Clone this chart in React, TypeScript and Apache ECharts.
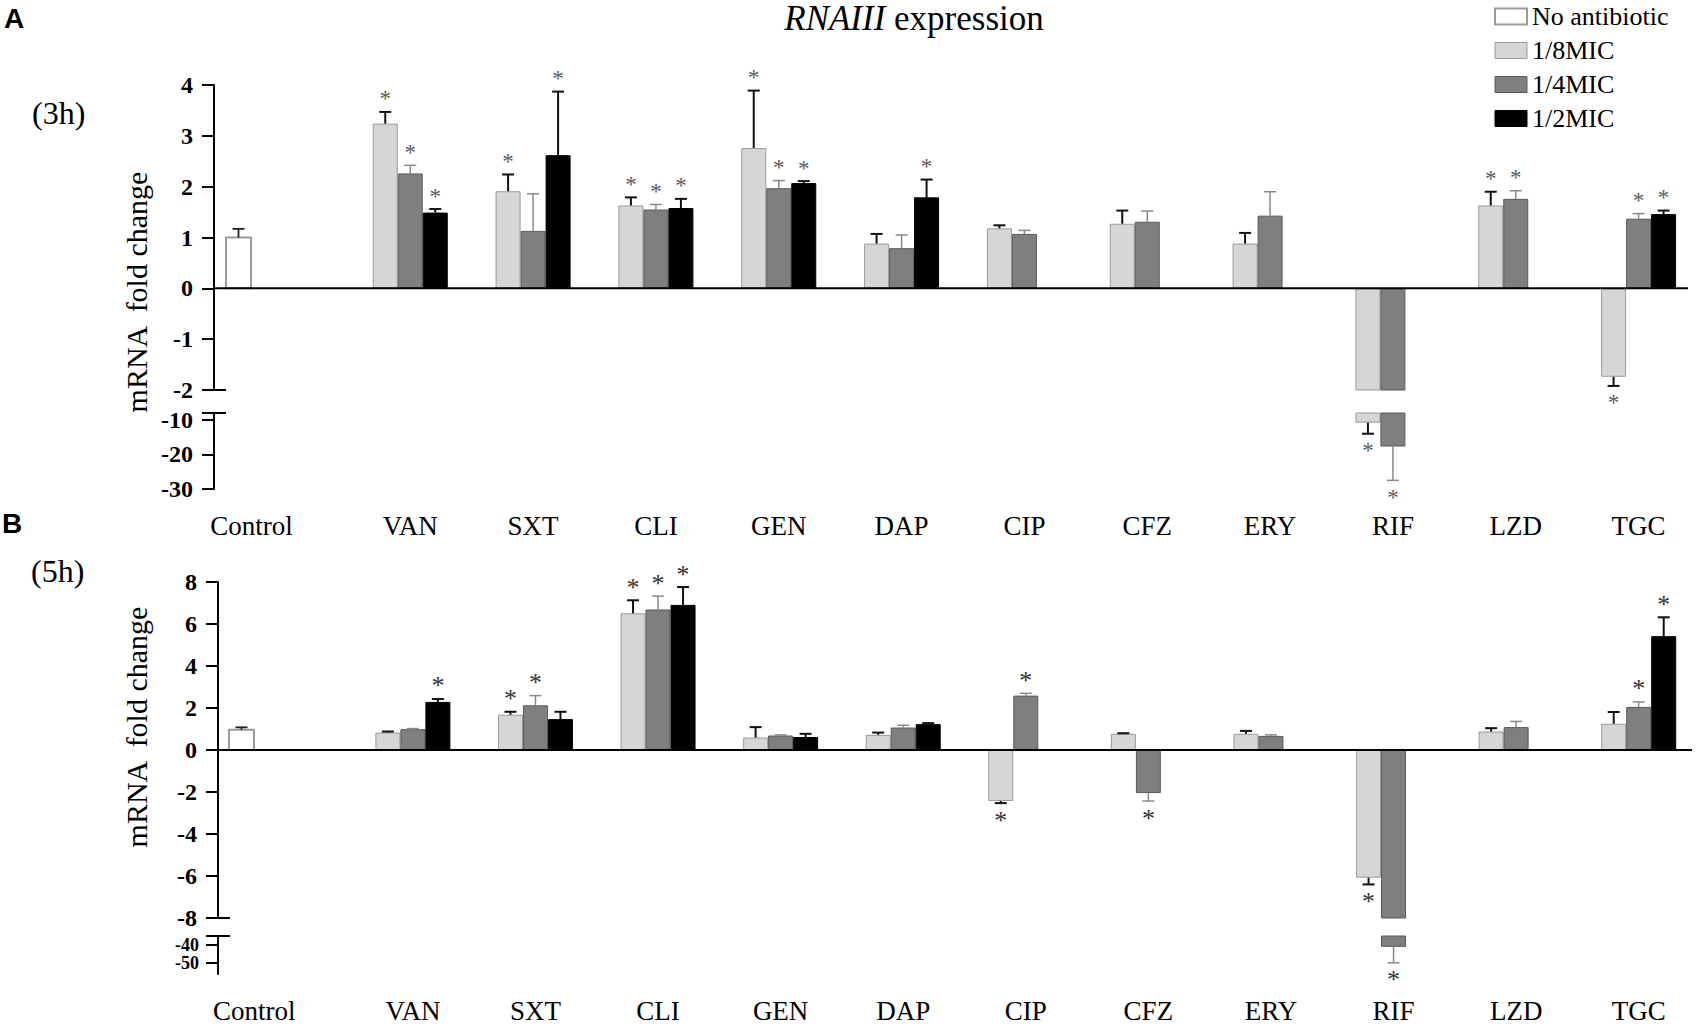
import React, { useEffect, useRef } from 'react';
import * as echarts from 'echarts';

const SERIF = '"Liberation Serif", "Times New Roman", serif';
const SANS = '"Liberation Sans", Arial, sans-serif';

const categories = ['Control', 'VAN', 'SXT', 'CLI', 'GEN', 'DAP', 'CIP', 'CFZ', 'ERY', 'RIF', 'LZD', 'TGC'];
const seriesNames = ['No antibiotic', '1/8MIC', '1/4MIC', '1/2MIC'];
const N = null;

// ---- 3h (panel A) ----
const noAb3h = [1.0, N, N, N, N, N, N, N, N, N, N, N];
const noAb3hErr = [0.17, N, N, N, N, N, N, N, N, N, N, N];
const noAb3hSig = [0, 0, 0, 0, 0, 0, 0, 0, 0, 0, 0, 0];
const mic8_3h = [N, 3.24, 1.91, 1.63, 2.76, 0.88, 1.18, 1.27, 0.88, -10.8, 1.63, -1.74];
const mic8_3hErr = [N, 0.23, 0.33, 0.16, 1.13, 0.19, 0.06, 0.26, 0.21, 3.2, 0.27, 0.18];
const mic8_3hSig = [0, 1, 1, 1, 1, 0, 0, 0, 0, 1, 1, 1];
const mic4_3h = [N, 2.26, 1.13, 1.55, 1.97, 0.79, 1.07, 1.31, 1.43, -17.7, 1.76, 1.37];
const mic4_3hErr = [N, 0.16, 0.73, 0.1, 0.15, 0.26, 0.07, 0.21, 0.47, 9.8, 0.16, 0.1];
const mic4_3hSig = [0, 1, 0, 1, 1, 0, 0, 0, 0, 1, 1, 1];
const mic2_3h = [N, 1.49, 2.62, 1.58, 2.07, 1.79, N, N, N, N, N, 1.46];
const mic2_3hErr = [N, 0.07, 1.25, 0.18, 0.04, 0.35, N, N, N, N, N, 0.07];
const mic2_3hSig = [0, 1, 1, 1, 1, 1, 0, 0, 0, 0, 0, 1];
const lowerTicks3h = [-30, -20, -10];

// ---- 5h (panel B) ----
const noAb5h = [0.96, N, N, N, N, N, N, N, N, N, N, N];
const noAb5hErr = [0.12, N, N, N, N, N, N, N, N, N, N, N];
const noAb5hSig = [0, 0, 0, 0, 0, 0, 0, 0, 0, 0, 0, 0];
const mic8_5h = [N, 0.83, 1.68, 6.51, 0.59, 0.72, -2.43, 0.77, 0.77, -6.08, 0.88, 1.25];
const mic8_5hErr = [N, 0.05, 0.14, 0.62, 0.5, 0.11, 0.1, 0.03, 0.14, 0.32, 0.16, 0.56];
const mic8_5hSig = [0, 0, 1, 1, 0, 0, 1, 0, 0, 1, 0, 0];
const mic4_5h = [N, 0.99, 2.13, 6.69, 0.69, 1.07, 2.59, -2.05, 0.67, -41.0, 1.09, 2.05];
const mic4_5hErr = [N, 0.03, 0.46, 0.64, 0.03, 0.11, 0.11, 0.38, 0.05, 8.8, 0.27, 0.24];
const mic4_5hSig = [0, 0, 1, 1, 0, 0, 1, 1, 0, 1, 0, 1];
const mic2_5h = [N, 2.29, 1.47, 6.91, 0.62, 1.23, N, N, N, N, N, 5.42];
const mic2_5hErr = [N, 0.14, 0.35, 0.85, 0.15, 0.05, N, N, N, N, N, 0.9];
const mic2_5hSig = [0, 1, 0, 1, 0, 0, 0, 0, 0, 0, 0, 1];
const lowerTicks5h = [-50, -40];

const fills = ['#ffffff', '#d6d6d6', '#7f7f7f', '#000000'];
const borders = ['#9a9a9a', '#9a9a9a', '#5a5a5a', '#000000'];
const errColors = ['#222222', '#111111', '#8a8a8a', '#111111'];
const errWidths = [1.8, 2, 1.5, 2];
const BAR_W = 25;

const panels = [
  {
    left: 226, offset: 12, lineEnd: 1688,
    upper: { top: 85, height: 305, min: -2, max: 4, interval: 1 },
    lower: { top: 413, height: 76, min: -30, max: -8, ticks: lowerTicks3h, labelSize: 24, ownLabels: false },
    vals: [noAb3h, mic8_3h, mic4_3h, mic2_3h],
    errs: [noAb3hErr, mic8_3hErr, mic4_3hErr, mic2_3hErr],
    sigs: [noAb3hSig, mic8_3hSig, mic4_3hSig, mic2_3hSig],
    star: { size: 23, color: '#5a5a5a' },
  },
  {
    left: 229, offset: 11, lineEnd: 1692,
    upper: { top: 582, height: 336, min: -8, max: 8, interval: 2 },
    lower: { top: 936, height: 38, min: -56, max: -35, ticks: lowerTicks5h, labelSize: 18, ownLabels: true },
    vals: [noAb5h, mic8_5h, mic4_5h, mic2_5h],
    errs: [noAb5hErr, mic8_5hErr, mic4_5hErr, mic2_5hErr],
    sigs: [noAb5hSig, mic8_5hSig, mic4_5hSig, mic2_5hSig],
    star: { size: 26, color: '#333333' },
  },
];

function buildOption() {
  const grid: any[] = [];
  const xAxis: any[] = [];
  const yAxis: any[] = [];
  const series: any[] = [];

  panels.forEach((p, pi) => {
    [p.upper, p.lower].forEach((seg: any, si) => {
      const g = pi * 2 + si;
      const isLower = si === 1;
      const breakVal = p.upper.min;
      grid.push({ left: p.left, width: 1478, top: seg.top, height: seg.height });
      xAxis.push({
        type: 'category', gridIndex: g, data: categories, boundaryGap: true,
        axisLine: { show: false }, axisTick: { show: false }, splitLine: { show: false },
        axisLabel: {
          show: isLower, margin: 23, interval: 0,
          fontFamily: SERIF, fontSize: 27, color: '#000',
          formatter: (v: string) => (v === 'Control' ? `{c|${v}}` : v),
          rich: { c: { fontFamily: SERIF, fontSize: 27, color: '#000', padding: [0, 72, 0, 0] } },
        },
      });
      const yA: any = {
        type: 'value', gridIndex: g, min: seg.min, max: seg.max, offset: p.offset,
        axisLine: { show: true, onZero: false, lineStyle: { color: '#000', width: 2 } },
        axisTick: { show: true, length: 12, lineStyle: { color: '#000', width: 2 } },
        axisLabel: {
          show: !seg.ownLabels,
          fontFamily: SERIF, fontWeight: 'bold', fontSize: seg.labelSize || 24, color: '#000',
          margin: 21, hideOverlap: false, showMinLabel: true, showMaxLabel: true,
        },
        splitLine: { show: false },
      };
      if (seg.interval) yA.interval = seg.interval;
      if (seg.ticks) {
        yA.axisTick.customValues = seg.ticks;
        yA.axisLabel.customValues = seg.ticks;
      }
      yAxis.push(yA);

      const inSeg = (v: number | null) =>
        v == null ? null : isLower ? (v < breakVal ? v : null) : v;
      const inSegErr = (v: number | null) =>
        v == null ? null : isLower ? (v < breakVal ? v : null) : v >= breakVal ? v : null;

      if (!isLower) {
        series.push({
          type: 'custom', name: seriesNames[0], xAxisIndex: g, yAxisIndex: g, silent: true, z: 3,
          itemStyle: { color: fills[0], borderColor: borders[0], borderWidth: 2 },
          encode: { x: 0, y: 1 },
          data: p.vals[0].map((v, i) => (v == null ? null : [i, v])).filter((d) => d),
          renderItem: (params: any, api: any) => {
            const ci = api.value(0);
            const v = api.value(1);
            const c = api.coord([ci, v]);
            const z = api.coord([ci, 0]);
            const band = api.size([1, 0])[0];
            const x0 = c[0] - band / 2;
            return {
              type: 'rect',
              shape: { x: x0, y: Math.min(c[1], z[1]), width: BAR_W, height: Math.abs(z[1] - c[1]) },
              style: { fill: fills[0], stroke: borders[0], lineWidth: 2 },
            };
          },
        });
      }

      for (let s = 1; s <= 3; s++) {
        series.push({
          type: 'bar', name: seriesNames[s], xAxisIndex: g, yAxisIndex: g,
          barWidth: BAR_W, barGap: '0%', clip: true, silent: true, z: 2,
          itemStyle: { color: fills[s], borderColor: borders[s], borderWidth: 1 },
          emphasis: { disabled: true },
          data: p.vals[s].map((v) => inSeg(v)),
        });
      }

      const errData: any[] = [];
      for (let s = 0; s <= 3; s++) {
        p.vals[s].forEach((v, i) => {
          const vv = inSegErr(v);
          if (vv == null) return;
          if (s === 0 && isLower) return;
          errData.push([i, vv, p.errs[s][i] || 0, p.sigs[s][i] || 0, s]);
        });
      }
      series.push({
        type: 'custom', name: 'err' + g, xAxisIndex: g, yAxisIndex: g, silent: true, z: 5,
        encode: { x: 0, y: 1 },
        data: errData,
        renderItem: (params: any, api: any) => {
          const ci = api.value(0);
          const v = api.value(1);
          const e = api.value(2);
          const sig = api.value(3);
          const s = api.value(4);
          const band = api.size([1, 0])[0];
          const c = api.coord([ci, v]);
          const dir = v >= 0 ? 1 : -1;
          const ce = api.coord([ci, v + dir * e]);
          const x = s === 0 ? c[0] - band / 2 + BAR_W / 2 : c[0] + (s - 2) * BAR_W;
          const ls = { stroke: errColors[s], lineWidth: errWidths[s] };
          const children: any[] = [
            { type: 'line', shape: { x1: x, y1: c[1], x2: x, y2: ce[1] }, style: ls },
            { type: 'line', shape: { x1: x - 6, y1: ce[1], x2: x + 6, y2: ce[1] }, style: ls },
          ];
          if (sig) {
            children.push({
              type: 'text',
              x,
              y: dir > 0 ? ce[1] - 13 : ce[1] + 17,
              style: {
                text: '*', fontFamily: SERIF, fontSize: p.star.size, fill: p.star.color,
                align: 'center', verticalAlign: 'middle',
              },
            });
          }
          return { type: 'group', children };
        },
      });
    });
  });

  return {
    animation: false,
    backgroundColor: '#ffffff',
    grid, xAxis, yAxis, series,
    legend: {
      left: 1489, top: -2, orient: 'vertical', itemWidth: 32, itemHeight: 16, itemGap: 7,
      selectedMode: false,
      textStyle: { fontFamily: SERIF, fontSize: 26, color: '#000', lineHeight: 27 },
      data: seriesNames.map((n, i) => ({
        name: n, icon: 'rect',
        itemStyle: { color: fills[i], borderColor: borders[i], borderWidth: i === 0 ? 2 : 1 },
      })),
    },
  };
}

export default function App() {
  const ref = useRef<HTMLDivElement>(null);
  useEffect(() => {
    document.body.style.margin = '0';
    const chart = echarts.init(ref.current as HTMLDivElement, null, { renderer: 'svg' });
    chart.setOption(buildOption() as any);

    const graphics: any[] = [];
    const txt = (x: number, y: number, text: string, style: any, extra: any = {}) =>
      graphics.push({ type: 'text', x, y, ...extra, style: { text, fill: '#000', ...style } });

    txt(4, 18, 'A', { fontFamily: SANS, fontWeight: 'bold', fontSize: 28, verticalAlign: 'middle' });
    txt(2, 523, 'B', { fontFamily: SANS, fontWeight: 'bold', fontSize: 28, verticalAlign: 'middle' });
    txt(32, 113, '(3h)', { fontFamily: SERIF, fontSize: 32, verticalAlign: 'middle' });
    txt(31, 571, '(5h)', { fontFamily: SERIF, fontSize: 32, verticalAlign: 'middle' });
    txt(914, 18, '{i|RNAIII}{n| expression}', {
      align: 'center', verticalAlign: 'middle',
      rich: {
        i: { fontFamily: SERIF, fontSize: 35, fontStyle: 'italic', fill: '#000' },
        n: { fontFamily: SERIF, fontSize: 35, fill: '#000' },
      },
    });
    txt(136, 292, 'mRNA  fold change', { fontFamily: SERIF, fontSize: 30, align: 'center', verticalAlign: 'middle' }, { rotation: Math.PI / 2 });
    txt(136, 727, 'mRNA  fold change', { fontFamily: SERIF, fontSize: 30, align: 'center', verticalAlign: 'middle' }, { rotation: Math.PI / 2 });

    panels.forEach((p, pi) => {
      const axisX = p.left - p.offset;
      const zeroY = chart.convertToPixel({ yAxisIndex: pi * 2 } as any, 0) as number;
      const breakTop = chart.convertToPixel({ yAxisIndex: pi * 2 } as any, p.upper.min) as number;
      const breakBot = chart.convertToPixel({ yAxisIndex: pi * 2 + 1 } as any, p.lower.max) as number;
      const ls = { stroke: '#000', lineWidth: 2 };
      graphics.push({ type: 'line', shape: { x1: axisX, y1: zeroY, x2: p.lineEnd, y2: zeroY }, style: ls, z: 10 });
      graphics.push({ type: 'line', shape: { x1: axisX - 12, y1: breakTop, x2: axisX + 12, y2: breakTop }, style: ls, z: 10 });
      graphics.push({ type: 'line', shape: { x1: axisX - 12, y1: breakBot, x2: axisX + 12, y2: breakBot }, style: ls, z: 10 });
      if ((p.lower as any).ownLabels) {
        p.lower.ticks.forEach((t: number) => {
          const ty = chart.convertToPixel({ yAxisIndex: pi * 2 + 1 } as any, t) as number;
          txt(axisX - 19, ty, String(t), {
            fontFamily: SERIF, fontWeight: 'bold', fontSize: p.lower.labelSize,
            align: 'right', verticalAlign: 'middle',
          });
        });
      }
    });

    chart.setOption({ graphic: graphics } as any);
    return () => chart.dispose();
  }, []);
  return (
    <div
      ref={ref}
      style={{ position: 'absolute', left: 0, top: 0, width: 1700, height: 1027, background: '#fff' }}
    />
  );
}
